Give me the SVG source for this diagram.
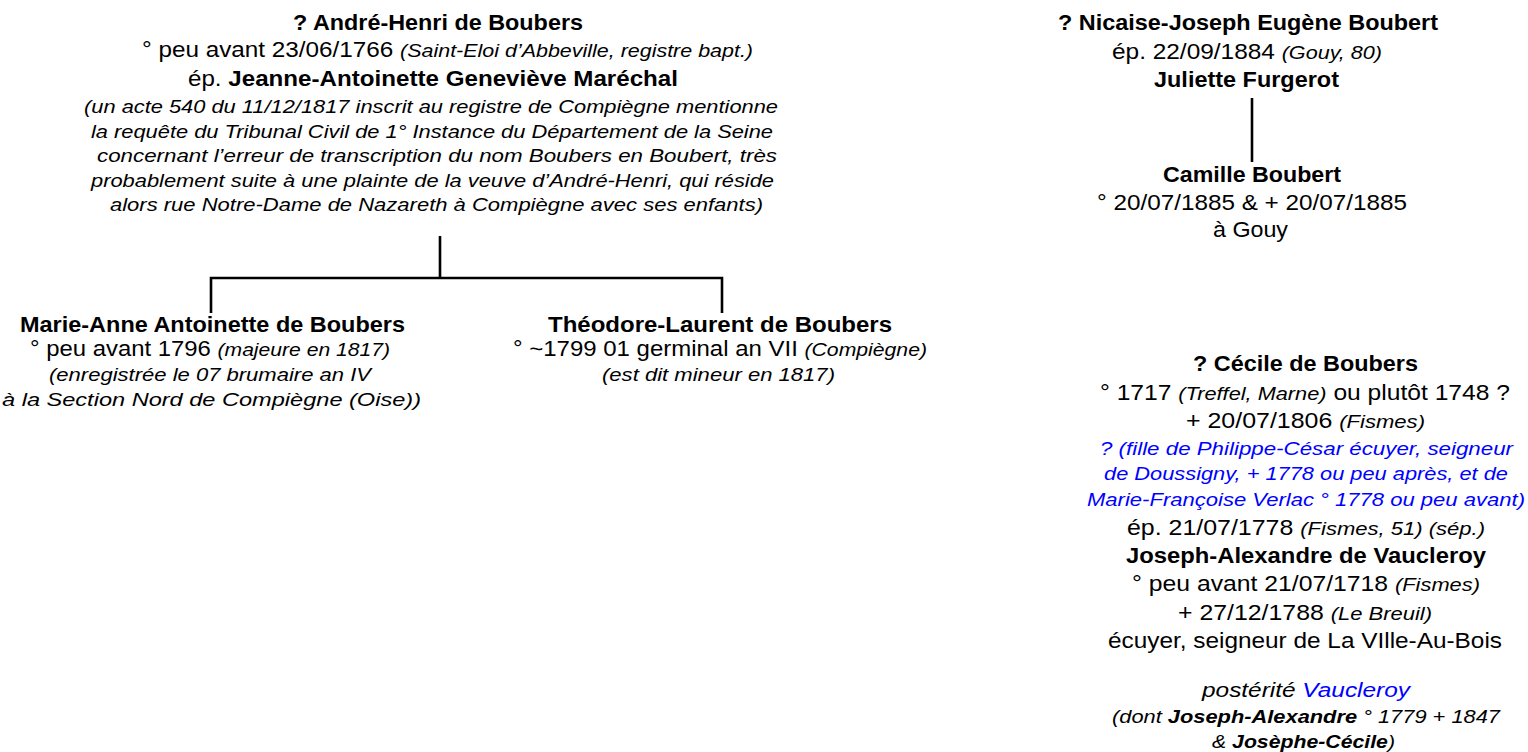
<svg xmlns="http://www.w3.org/2000/svg" width="1528" height="752" viewBox="0 0 1528 752">
<style>
text{font-family:"Liberation Sans",Arial,sans-serif;fill:#000}
.r{font-size:21.5px}
.b{font-size:21.5px;font-weight:bold}
.i{font-size:19px;font-style:italic}
.bi{font-weight:bold}
.blue{fill:#0000ff}
.con{stroke:#000;stroke-width:2.6;fill:none}
</style>
<rect width="1528" height="752" fill="#fff"/>
<g id="connectors">
<path class="con" d="M440 236V278M211 313V278H722V313"/>
<path class="con" d="M1252 98V162"/>
</g>
<g id="andre-henri">
<text class="b" x="293" y="30" textLength="290" lengthAdjust="spacingAndGlyphs">? André-Henri de Boubers</text>
<text class="r" x="142" y="57" textLength="611" lengthAdjust="spacingAndGlyphs">° peu avant 23/06/1766 <tspan class="i">(Saint-Eloi d’Abbeville, registre bapt.)</tspan></text>
<text class="r" x="188" y="86" textLength="490" lengthAdjust="spacingAndGlyphs">ép. <tspan class="bi">Jeanne-Antoinette Geneviève Maréchal</tspan></text>
<text class="i" x="84" y="113" textLength="694" lengthAdjust="spacingAndGlyphs">(un acte 540 du 11/12/1817 inscrit au registre de Compiègne mentionne</text>
<text class="i" x="91" y="137.5" textLength="682" lengthAdjust="spacingAndGlyphs">la requête du Tribunal Civil de 1° Instance du Département de la Seine</text>
<text class="i" x="97" y="162" textLength="680" lengthAdjust="spacingAndGlyphs">concernant l’erreur de transcription du nom Boubers en Boubert, très</text>
<text class="i" x="91" y="186.5" textLength="683" lengthAdjust="spacingAndGlyphs">probablement suite à une plainte de la veuve d’André-Henri, qui réside</text>
<text class="i" x="110" y="211" textLength="653" lengthAdjust="spacingAndGlyphs">alors rue Notre-Dame de Nazareth à Compiègne avec ses enfants)</text>
</g>
<g id="marie-anne">
<text class="b" x="20" y="332" textLength="385" lengthAdjust="spacingAndGlyphs">Marie-Anne Antoinette de Boubers</text>
<text class="r" x="30" y="356" textLength="360" lengthAdjust="spacingAndGlyphs">° peu avant 1796 <tspan class="i">(majeure en 1817)</tspan></text>
<text class="i" x="49" y="381" textLength="322" lengthAdjust="spacingAndGlyphs">(enregistrée le 07 brumaire an IV</text>
<text class="i" x="2" y="406" textLength="419" lengthAdjust="spacingAndGlyphs">à la Section Nord de Compiègne (Oise))</text>
</g>
<g id="theodore">
<text class="b" x="548" y="332" textLength="344" lengthAdjust="spacingAndGlyphs">Théodore-Laurent de Boubers</text>
<text class="r" x="513" y="356" textLength="414" lengthAdjust="spacingAndGlyphs">° ~1799 01 germinal an VII <tspan class="i">(Compiègne)</tspan></text>
<text class="i" x="602" y="381" textLength="233" lengthAdjust="spacingAndGlyphs">(est dit mineur en 1817)</text>
</g>
<g id="nicaise">
<text class="b" x="1058" y="30" textLength="380" lengthAdjust="spacingAndGlyphs">? Nicaise-Joseph Eugène Boubert</text>
<text class="r" x="1112" y="59" textLength="270" lengthAdjust="spacingAndGlyphs">ép. 22/09/1884  <tspan class="i">(Gouy, 80)</tspan></text>
<text class="b" x="1154" y="87" textLength="185" lengthAdjust="spacingAndGlyphs">Juliette Furgerot</text>
</g>
<g id="camille">
<text class="b" x="1163" y="182" textLength="178" lengthAdjust="spacingAndGlyphs">Camille Boubert</text>
<text class="r" x="1097" y="210" textLength="310" lengthAdjust="spacingAndGlyphs">° 20/07/1885 &amp; + 20/07/1885</text>
<text class="r" x="1213" y="237" textLength="75" lengthAdjust="spacingAndGlyphs">à Gouy</text>
</g>
<g id="cecile">
<text class="b" x="1193" y="371" textLength="225" lengthAdjust="spacingAndGlyphs">? Cécile de Boubers</text>
<text class="r" x="1100" y="400" textLength="410" lengthAdjust="spacingAndGlyphs">° 1717 <tspan class="i">(Treffel, Marne)</tspan> ou plutôt 1748 ?</text>
<text class="r" x="1186" y="428" textLength="239" lengthAdjust="spacingAndGlyphs">+ 20/07/1806  <tspan class="i">(Fismes)</tspan></text>
<text class="i blue" x="1100" y="455" textLength="413" lengthAdjust="spacingAndGlyphs">? (fille de Philippe-César écuyer, seigneur</text>
<text class="i blue" x="1104" y="480" textLength="404" lengthAdjust="spacingAndGlyphs">de Doussigny, + 1778 ou peu après, et de</text>
<text class="i blue" x="1087" y="506" textLength="438" lengthAdjust="spacingAndGlyphs">Marie-Françoise Verlac ° 1778 ou peu avant)</text>
<text class="r" x="1127" y="535" textLength="358" lengthAdjust="spacingAndGlyphs">ép. 21/07/1778 <tspan class="i">(Fismes, 51) (sép.)</tspan></text>
<text class="b" x="1126" y="563" textLength="360" lengthAdjust="spacingAndGlyphs">Joseph-Alexandre de Vaucleroy</text>
<text class="r" x="1132" y="591" textLength="348" lengthAdjust="spacingAndGlyphs">° peu avant 21/07/1718 <tspan class="i">(Fismes)</tspan></text>
<text class="r" x="1178" y="620" textLength="254" lengthAdjust="spacingAndGlyphs">+ 27/12/1788 <tspan class="i">(Le Breuil)</tspan></text>
<text class="r" x="1108" y="648" textLength="394" lengthAdjust="spacingAndGlyphs">écuyer, seigneur de La VIlle-Au-Bois</text>
<text class="i" x="1202" y="697" style="font-size:20.5px" textLength="208" lengthAdjust="spacingAndGlyphs">postérité <tspan class="blue">Vaucleroy</tspan></text>
<text class="i" x="1112" y="723" textLength="388" lengthAdjust="spacingAndGlyphs">(dont <tspan class="bi">Joseph-Alexandre</tspan> ° 1779 + 1847</text>
<text class="i" x="1212" y="748" textLength="183" lengthAdjust="spacingAndGlyphs">&amp; <tspan class="bi">Josèphe-Cécile</tspan>)</text>
</g>
</svg>
